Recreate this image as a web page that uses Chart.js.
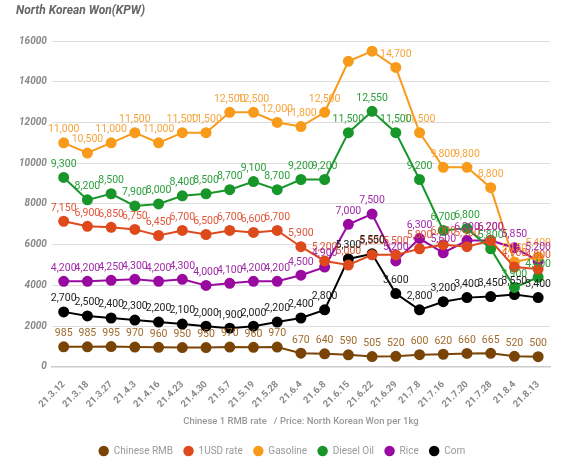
<!DOCTYPE html>
<html>
<head>
<meta charset="utf-8">
<script src="https://cdn.jsdelivr.net/npm/chart.js@4"></script>
<style>
html,body{margin:0;padding:0;background:#fff;}
#wrap{position:relative;width:570px;height:468px;}
</style>
</head>
<body>
<div id="wrap"><canvas id="c" width="570" height="468"></canvas></div>
<script>
const categories = ['21.3.12','21.3.18','21.3.27','21.4.3','21.4.16','21.4.23','21.4.30','21.5.7','21.5.19','21.5.28','21.6.4','21.6.8','21.6.15','21.6.22','21.6.29','21.7.8','21.7.16','21.7.20','21.7.28','21.8.4','21.8.13'];
const rmb      = [985,985,995,970,960,950,950,970,960,970,670,640,590,505,520,600,620,660,665,520,500];
const usdRate  = [7150,6900,6850,6750,6450,6700,6500,6700,6600,6700,5900,5200,5000,5500,5500,5800,6000,5900,6200,4900,4800];
const gasoline = [11000,10500,11000,11500,11000,11500,11500,12500,12500,12000,11800,12500,15000,15500,14700,11500,9800,9800,8800,5150,5400];
const diesel   = [9300,8200,8500,7900,8000,8400,8500,8700,9100,8700,9200,9200,11500,12550,11500,9200,6700,6800,5800,3900,4400];
const rice     = [4200,4200,4250,4300,4200,4300,4000,4100,4200,4200,4500,4900,7000,7500,5200,6300,5600,6200,6200,5850,5200];
const corn     = [2700,2500,2400,2300,2200,2100,2000,1900,2000,2200,2400,2800,5300,5550,3600,2800,3200,3400,3450,3550,3400];
const yTicks   = [0,2000,4000,6000,8000,10000,12000,14000,16000];
const hiddenGasolineLabels = ['21.6.15','21.6.22'];
const titleText = 'North Korean Won(KPW)';

function ds(label, data, color, labelColor){
  return {label, data, borderColor: color, backgroundColor: color, pointBackgroundColor: color,
    pointBorderColor: color, pointRadius: 4.5, pointHoverRadius: 4.5, borderWidth: 2, tension: 0,
    labelColor: labelColor || color};
}

const valueLabels = {
  id: 'valueLabels',
  afterDatasetsDraw(chart){
    const ctx = chart.ctx;
    ctx.save();
    ctx.font = '10.5px Roboto, "DejaVu Sans", sans-serif';
    ctx.textAlign = 'center';
    ctx.textBaseline = 'bottom';
    chart.data.datasets.forEach((d, di) => {
      const meta = chart.getDatasetMeta(di);
      meta.data.forEach((pt, i) => {
        if (d.label === 'Gasoline' && hiddenGasolineLabels.includes(categories[i])) return;
        ctx.fillStyle = d.labelColor;
        ctx.fillText(d.data[i].toLocaleString('en-US'), pt.x, pt.y - 8);
      });
    });
    ctx.restore();
  }
};

const topTitle = {
  id: 'topTitle',
  afterDraw(chart){
    const ctx = chart.ctx;
    ctx.save();
    ctx.font = 'italic bold 12px Roboto, sans-serif';
    ctx.fillStyle = '#666';
    ctx.textAlign = 'left';
    ctx.textBaseline = 'middle';
    ctx.fillText(titleText, 16, 11);
    ctx.restore();
  }
};

new Chart(document.getElementById('c'), {
  type: 'line',
  data: {
    labels: categories,
    datasets: [
      ds('Chinese RMB', rmb, '#7a4407', '#a06a2c'),
      ds('1USD rate', usdRate, '#de4a1c', '#e0553a'),
      ds('Gasoline', gasoline, '#f89a1a', '#f7a43a'),
      ds('Diesel Oil', diesel, '#18962a', '#2a9e3a'),
      ds('Rice', rice, '#990aa0', '#a02aa8'),
      ds('Corn', corn, '#000000', '#222222')
    ]
  },
  options: {
    responsive: false,
    animation: false,
    layout: { padding: { left: 14, right: 20, top: 41, bottom: 2 } },
    plugins: {
      title: { display: false },
      legend: {
        position: 'bottom',
        labels: { usePointStyle: true, pointStyle: 'circle', boxWidth: 12, boxHeight: 6,
          color: '#999', font: { family: 'Roboto', size: 10 }, padding: 10.5 }
      },
      tooltip: { enabled: false }
    },
    scales: {
      x: {
        offset: true,
        grid: { display: false },
        border: { display: true, color: '#ccc', width: 1.5 },
        ticks: { color: '#888', maxRotation: 45, minRotation: 45, autoSkip: false, padding: 4,
          font: { family: 'Roboto', size: 9.5, weight: 'bold' } },
        title: { display: true, text: 'Chinese 1 RMB rate   / Price: North Korean Won per 1kg', color: '#999',
          font: { family: 'Roboto', size: 9.5, weight: '500' }, padding: { top: 2, bottom: 8 } }
      },
      y: {
        min: 0, max: 16000,
        afterBuildTicks(axis){ axis.ticks = yTicks.map(v => ({ value: v })); },
        grid: { color: '#ddd', drawTicks: false },
        border: { display: false },
        ticks: { color: '#888', padding: 5, callback: v => String(v),
          font: { family: 'Roboto', size: 10, weight: 'bold', style: 'italic' } }
      }
    }
  },
  plugins: [valueLabels, topTitle]
});
</script>
</body>
</html>
